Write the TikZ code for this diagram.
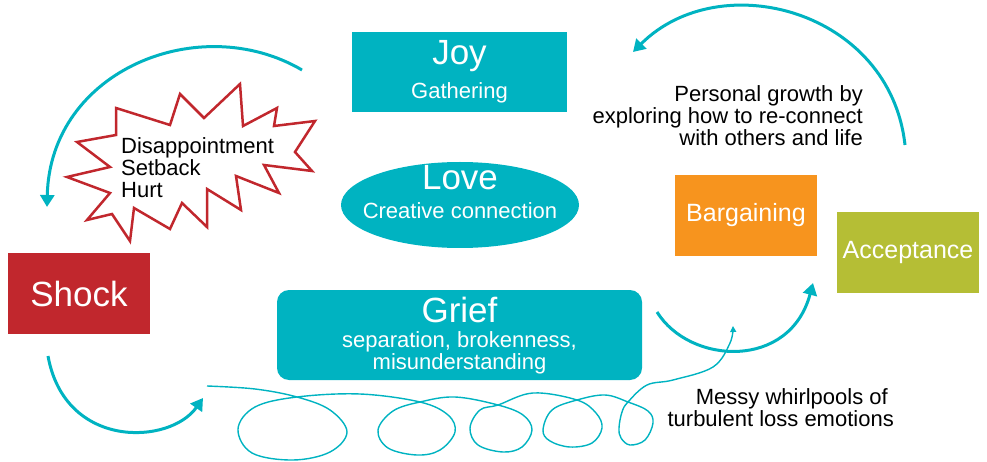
\documentclass[tikz,border=0pt]{standalone}
\usepackage{fontspec}
\setmainfont{Liberation Sans}
\usetikzlibrary{shapes.geometric,arrows.meta}
\definecolor{tealc}{HTML}{00B3C1}
\definecolor{redc}{HTML}{C1272D}
\definecolor{orangec}{HTML}{F7941E}
\definecolor{greenc}{HTML}{B5BE35}
\begin{document}
\begin{tikzpicture}[x=1pt,y=-1pt,
  box/.style={draw=none, inner sep=0pt, text=white},
  big/.style={font=\fontsize{35}{35}\selectfont, inner sep=0pt, text=white},
  mid/.style={font=\fontsize{22}{22}\selectfont, inner sep=0pt, text=white},
  lbl/.style={font=\fontsize{22}{22}\selectfont, inner sep=0pt, text=black},
  arc/.style={draw=tealc, line width=3pt, -{Triangle[length=12pt,width=14pt]}},
  swirl/.style={draw=tealc, line width=1.4pt, -{Triangle[length=6pt,width=6pt]}},
  burst/.style={draw=redc, line width=2.5pt, fill=white, miter limit=6}]
\useasboundingbox (0,0) rectangle (987,462);

% boxes
\node[box, fill=tealc, minimum width=215pt, minimum height=80pt] (joy) at (459.5,72) {};
\node[big, anchor=base] (joyt) at (459.5,65) {Joy};
\node[mid, anchor=base] (joys) at (459.5,99) {Gathering};

\node[box, ellipse, fill=tealc, minimum width=238pt, minimum height=86pt] (love) at (460,205) {};
\node[big, anchor=base] (lovet) at (460,190) {Love};
\node[mid, anchor=base] (loves) at (460,219) {Creative connection};

\node[box, fill=tealc, rounded corners=12pt, minimum width=365pt, minimum height=90pt] (grief) at (459.5,335) {};
\node[big, anchor=base] (grieft) at (459.5,322) {Grief};
\node[mid, anchor=base] (griefa) at (459.5,347) {separation, brokenness,};
\node[mid, anchor=base] (griefb) at (459.5,369) {misunderstanding};

\node[box, fill=redc, minimum width=142pt, minimum height=81pt, font=\fontsize{35}{35}\selectfont] (shock) at (79,293.5) {Shock};
\node[box, fill=orangec, minimum width=142pt, minimum height=81pt, font=\fontsize{25}{25}\selectfont] (barg) at (746,215.5) {Bargaining};
\node[box, fill=greenc, minimum width=142pt, minimum height=81pt, font=\fontsize{25}{25}\selectfont] (accept) at (908,252.5) {Acceptance};

% starburst
\draw[burst] (77,142) -- (116,135) -- (116,108) -- (170,125) -- (180,94) -- (204,118) -- (240,84)
  -- (243,126) -- (277,108) -- (274,126) -- (315,121) -- (295,152) -- (312,171) -- (264,165)
  -- (279,193) -- (236,176) -- (241,210) -- (207,189) -- (207,227) -- (182,203) -- (170,229)
  -- (134,208) -- (130,241) -- (112,214) -- (87,220) -- (110,193) -- (67,177) -- (110,167) -- cycle;
\node[lbl, anchor=north west, align=left] (hurt) at (121,137) {Disappointment\\Setback\\Hurt};

% texts
\node[lbl, anchor=north east, align=right] (growth) at (863,85) {Personal growth by\\exploring how to re-connect\\with others and life};
\node[lbl, anchor=north east, align=right] (messy) at (894,388) {Messy whirlpools of\hspace*{6pt}\\turbulent loss emotions};

% arcs
\coordinate (a1s) at (302,70);  \coordinate (a1e) at (47,207);
\coordinate (a2s) at (48,356);  \coordinate (a2e) at (203,398);
\coordinate (a3s) at (657,312); \coordinate (a3e) at (813,283);
\coordinate (a4s) at (905,145); \coordinate (a4e) at (633,52);
\draw[arc] (a1s) .. controls (200,10) and (50,70) .. (a1e);
\draw[arc] (a2s) .. controls (65,450) and (170,445) .. (a2e);
\draw[arc] (a3s) .. controls (690,365) and (790,370) .. (a3e);
\draw[arc] (a4s) .. controls (890,10) and (720,-35) .. (a4e);

% whirlpool
\draw[swirl] plot[smooth, tension=0.6] coordinates {
 (207,386) (255,389) (297,397) (330,410) (347,432) (330,452) (293,460) (252,453) (238,429) (255,407)
 (297,397) (360,394) (420,402) (448,415) (455,432) (440,450) (417,455) (388,448) (378,430) (393,411)
 (420,402) (455,397) (498,405) (523,415) (532,430) (522,447) (503,452) (478,445) (470,428) (480,410)
 (498,405) (533,393) (577,400) (596,413) (602,428) (592,443) (570,447) (550,441) (543,430) (552,410)
 (577,400) (605,395) (628,402) (648,411) (653,423) (645,440) (630,445) (621,438) (619,428) (622,412)
 (628,402) (647,385) (673,380) (713,367) (730,343) (733,326)};
\end{tikzpicture}
\end{document}
